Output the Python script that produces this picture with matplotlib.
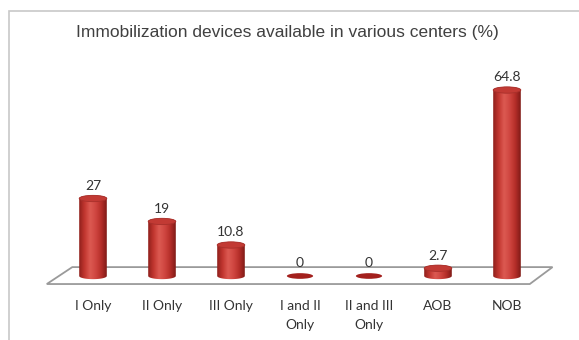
"""Immobilization devices chart: 3D-looking cylinder bars on a floor plane."""
import numpy as np
import matplotlib
matplotlib.use("Agg")
import matplotlib.pyplot as plt
from matplotlib.path import Path
from matplotlib.patches import PathPatch, Ellipse, Polygon, Rectangle
from matplotlib.colors import LinearSegmentedColormap

TITLE = "Immobilization devices available in various centers (%)"
CATEGORIES = ["I Only", "II Only", "III Only", "I and II\nOnly",
              "II and III\nOnly", "AOB", "NOB"]
VALUES = [27, 19, 10.8, 0, 0, 2.7, 64.8]
VALUE_LABELS = ["27", "19", "10.8", "0", "0", "2.7", "64.8"]

BAR_W = 0.40       # in category units
ELL_H = 2.2        # ellipse height in value units
W_PX, H_PX = 579, 340

body_cmap = LinearSegmentedColormap.from_list(
    "cyl", ["#8e1f1c", "#c2362f", "#dc5a52", "#cf4640", "#b52e29", "#7e1a17"])

fig = plt.figure(figsize=(W_PX / 100, H_PX / 100), dpi=100)

# outer light frame
fig.patches.append(Rectangle((9 / W_PX, -0.1), 1.1, 1 - 11 / H_PX + 0.1,
                             transform=fig.transFigure, fill=False,
                             edgecolor="#c8c8c8", lw=1.2))

# axes: category i centred at 93 + 69*i px, value 0 at y = 276 px, 2.87 px per unit
ax_bottom_px = 292
ax = fig.add_axes([0, (H_PX - ax_bottom_px) / H_PX, 1, ax_bottom_px / H_PX])
ax.set_xlim(-93 / 69, (W_PX - 93) / 69)
ax.set_ylim(-(ax_bottom_px - 276) / 2.87, 276 / 2.87)
for s in ax.spines.values():
    s.set_visible(False)
ax.set_yticks([])
x = np.arange(len(CATEGORIES))
ax.set_xticks(x)
ax.set_xticklabels(CATEGORIES, fontsize=10, family="Lato", color="#333333",
                   linespacing=1.65)
ax.tick_params(axis="x", length=0, pad=6)

# floor plane
x0, x1 = x[0] - 0.67, x[-1] + 0.33
floor = Polygon([(x0, -2.8), (x1, -2.8), (x1 + 0.33, 3.1), (x0 + 0.37, 3.1)],
                closed=True, facecolor="white", edgecolor="#9a9a9a", lw=1.3,
                zorder=1)
ax.add_patch(floor)

t_low = np.linspace(np.pi, 2 * np.pi, 40)   # lower half, left -> right
t_up = np.linspace(0, np.pi, 40)            # upper half, right -> left
grad = np.linspace(0, 1, 256).reshape(1, -1)
for xi, v, lab in zip(x, VALUES, VALUE_LABELS):
    r = BAR_W / 2
    if v > 0:
        bottom = np.column_stack([xi + r * np.cos(t_low),
                                  ELL_H / 2 * np.sin(t_low)])
        top = np.column_stack([xi + r * np.cos(t_up),
                               v + ELL_H / 2 * np.sin(t_up)])
        verts = np.vstack([bottom, top, bottom[:1]])
        patch = PathPatch(Path(verts), facecolor="none", edgecolor="none",
                          zorder=2)
        ax.add_patch(patch)
        im = ax.imshow(grad, cmap=body_cmap, aspect="auto",
                       extent=(xi - r, xi + r, -ELL_H, v + ELL_H), zorder=2,
                       interpolation="bicubic")
        im.set_clip_path(patch)
        ax.add_patch(Ellipse((xi, v), 2 * r, ELL_H, facecolor="#c23a34",
                             edgecolor="#a8302b", lw=0.6, zorder=3))
        ytxt = v + ELL_H / 2 + 1.2
    else:
        ax.add_patch(Ellipse((xi, 0), 2 * r * 0.95, ELL_H * 0.9,
                             facecolor="#a3201d", edgecolor="none", zorder=3))
        ytxt = ELL_H / 2 + 1.4
    ax.text(xi, ytxt, lab, ha="center", va="bottom", fontsize=10,
            family="Lato", color="#333333", zorder=4)

fig.text(287 / W_PX, 1 - 33 / H_PX, TITLE, ha="center", va="center",
         fontsize=12.5, family="Liberation Sans", color="#404040")

fig.savefig("out.png", dpi=100)
